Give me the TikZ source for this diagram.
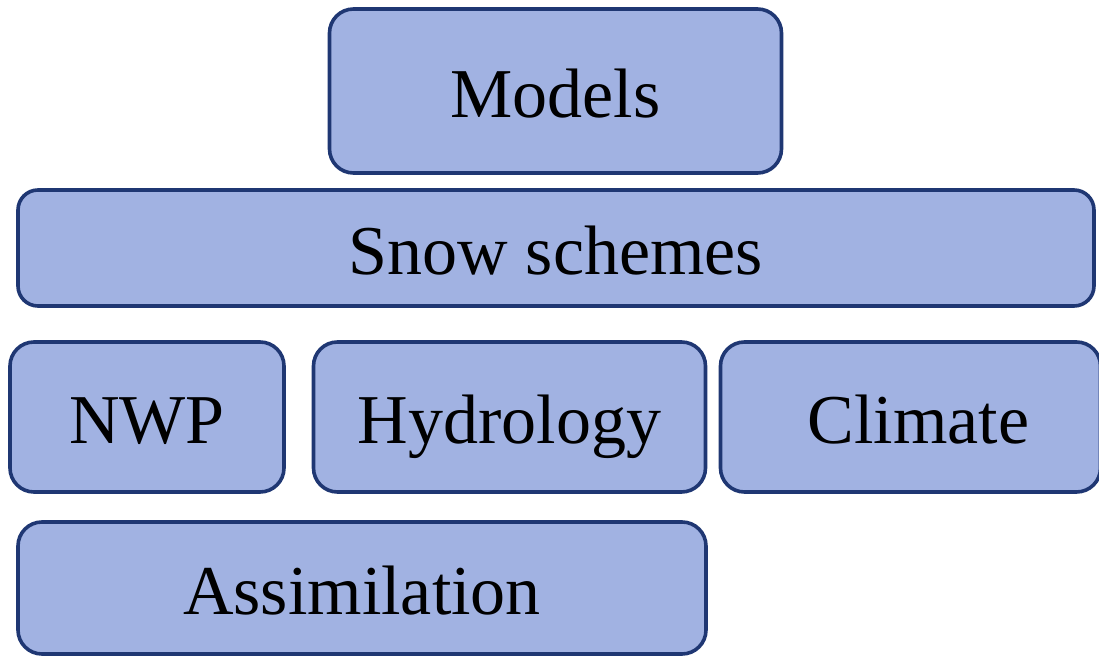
\documentclass[tikz,border=0pt]{standalone}
\usepackage{fontspec}
\setmainfont{Liberation Serif}
\usetikzlibrary{positioning}
\definecolor{boxfill}{RGB}{161,178,226}
\definecolor{boxline}{RGB}{31,55,115}
\tikzset{
  box/.style={draw=boxline, line width=1.8pt, rounded corners=12pt, fill=boxfill,
    inner sep=0pt, text height=27pt, text depth=0pt, font=\fontsize{35}{40}\selectfont},
}
\begin{document}
\begin{tikzpicture}[x=0.5pt, y=-0.5pt]
    \useasboundingbox (0,0) rectangle (1099,657);
    \node[box, minimum width=226pt, minimum height=82pt] (models) at (555.5,91) {Models};
    \node[box, minimum width=538pt, minimum height=58pt, rounded corners=10pt] (snow) at (556,248) {Snow schemes};
    \node[box, minimum width=137pt, minimum height=75pt] (nwp) at (147,417) {NWP};
    \node[box, minimum width=196pt, minimum height=75pt] (hydro) at (509.5,417) {Hydrology};
    \node[box, minimum width=190pt, minimum height=75pt] (climate) at (910.5,417) {\hspace{8pt}Climate};
    \node[box, minimum width=344pt, minimum height=66pt] (assim) at (362,588) {Assimilation};
\end{tikzpicture}
\end{document}
